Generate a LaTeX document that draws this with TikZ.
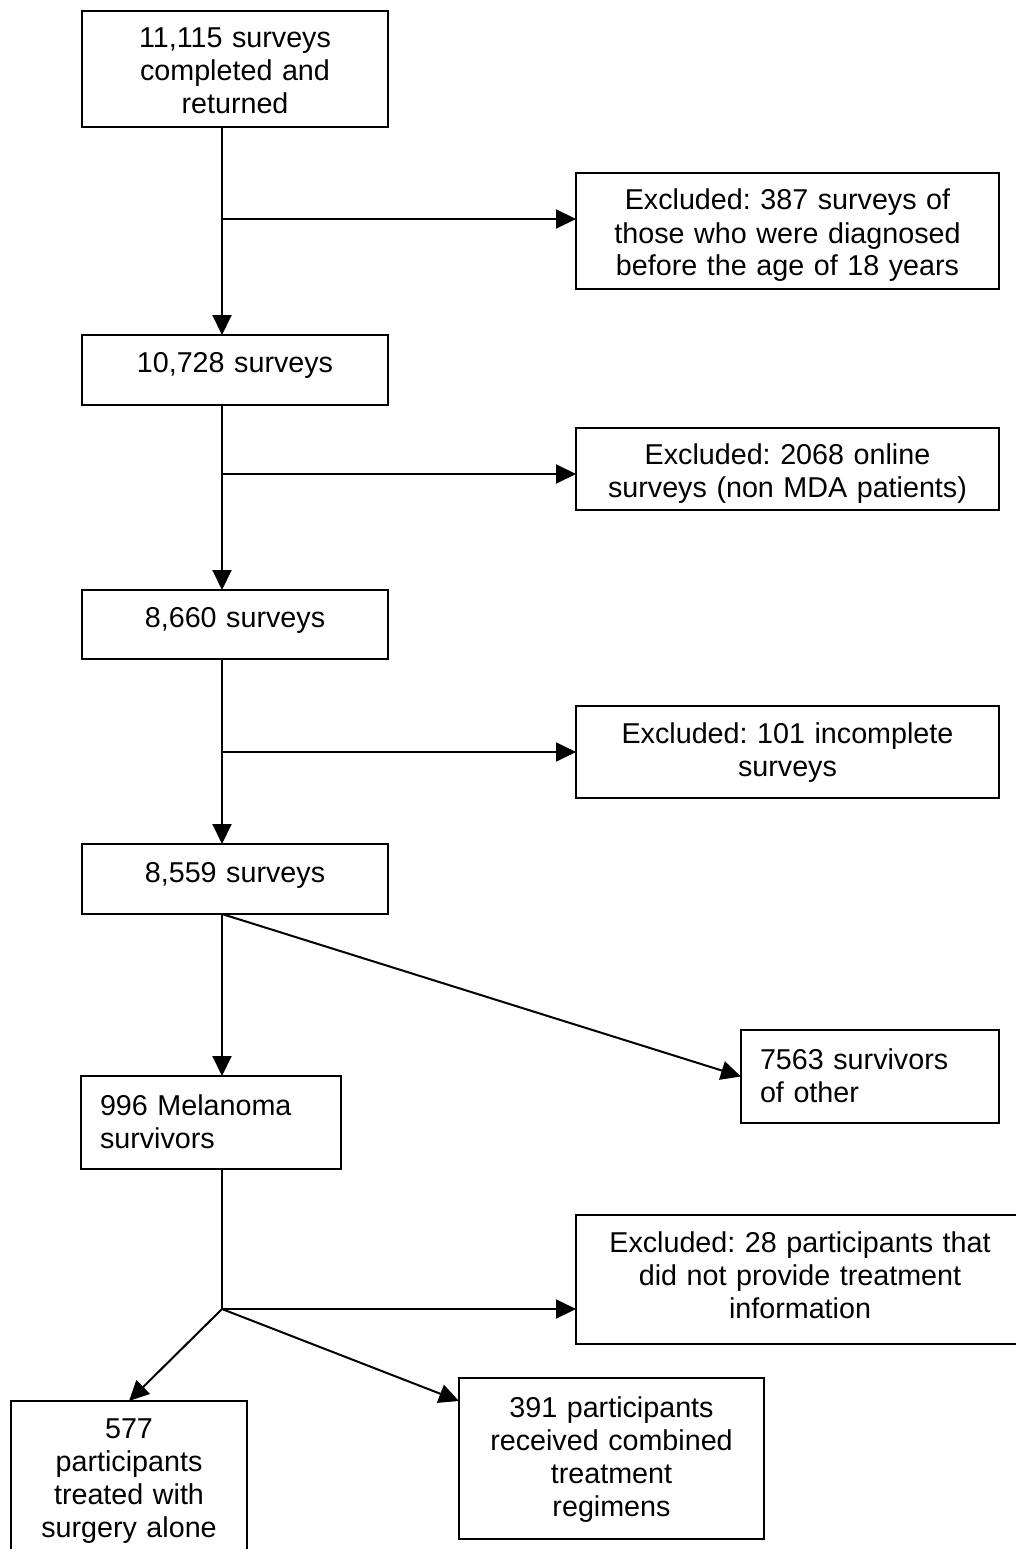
\documentclass[tikz,border=0pt]{standalone}
\usepackage{fontspec}
\setmainfont{Liberation Sans}
\usetikzlibrary{arrows.meta,calc}
\frenchspacing
\begin{document}
\begin{tikzpicture}[x=1pt,y=-1pt,
  box/.style={draw, line width=2pt, inner sep=0pt, outer sep=0pt},
  txt/.style={font=\fontsize{28.7}{33}\selectfont, inner sep=0pt, outer sep=0pt, align=center},
  ltxt/.style={font=\fontsize{28.7}{33}\selectfont, inner sep=0pt, outer sep=0pt, align=left},
  ln/.style={line width=2pt},
  arr/.style={line width=2pt, -{Triangle[length=20pt,width=19pt]}}]
\useasboundingbox (0,0) rectangle (1015,1549);
% boxes
\node[box, minimum width=306pt, minimum height=116pt] (b1) at (235,69) {};
\node[box, minimum width=423pt, minimum height=116pt] (e1) at (787.5,231) {};
\node[box, minimum width=306pt, minimum height=70pt] (b2) at (235,370) {};
\node[box, minimum width=423pt, minimum height=82pt] (e2) at (787.5,469) {};
\node[box, minimum width=306pt, minimum height=69pt] (b3) at (235,624.5) {};
\node[box, minimum width=423pt, minimum height=92pt] (e3) at (787.5,752) {};
\node[box, minimum width=306pt, minimum height=70pt] (b4) at (235,879) {};
\node[box, minimum width=258pt, minimum height=93pt] (o) at (870,1076.5) {};
\node[box, minimum width=260pt, minimum height=93pt] (m) at (211,1122.5) {};
\node[box, minimum width=448pt, minimum height=129pt] (e4) at (800,1279.5) {};
\node[box, minimum width=236pt, minimum height=169pt] (s) at (129,1485.5) {};
\node[box, minimum width=305pt, minimum height=161pt] (c) at (611.5,1458.5) {};
% texts
\node[txt, text width=306pt, anchor=base] (tb1) at ($(b1.north)+(0,37)$) {11,115 surveys\\completed and\\returned};
\node[txt, text width=423pt, anchor=base] (te1) at ($(e1.north)+(0,37)$) {Excluded: 387 surveys of\\those who were diagnosed\\before the age of 18 years};
\node[txt, text width=306pt, anchor=base] (tb2) at ($(b2.north)+(0,37)$) {10,728 surveys};
\node[txt, text width=423pt, anchor=base] (te2) at ($(e2.north)+(0,36)$) {Excluded: 2068 online\\surveys (non MDA patients)};
\node[txt, text width=306pt, anchor=base] (tb3) at ($(b3.north)+(0,37)$) {8,660 surveys};
\node[txt, text width=423pt, anchor=base] (te3) at ($(e3.north)+(0,37)$) {Excluded: 101 incomplete\\surveys};
\node[txt, text width=306pt, anchor=base] (tb4) at ($(b4.north)+(0,38)$) {8,559 surveys};
\node[ltxt, text width=235pt, anchor=base west] (to) at ($(o.north west)+(19,39)$) {7563 survivors\\of other};
\node[ltxt, text width=235pt, anchor=base west] (tm) at ($(m.north west)+(19,39)$) {996 Melanoma\\survivors};
\node[txt, text width=448pt, anchor=base] (te4) at ($(e4.north)+(0,37)$) {Excluded: 28 participants that\\did not provide treatment\\information};
\node[txt, text width=236pt, anchor=base] (ts) at ($(s.north)+(0,37)$) {577\\participants\\treated with\\surgery alone};
\node[txt, text width=305pt, anchor=base] (tc) at ($(c.north)+(0,39)$) {391 participants\\received combined\\treatment\\regimens};
% junctions
\coordinate (j1) at (222,219);
\coordinate (j2) at (222,474);
\coordinate (j3) at (222,752);
\coordinate (j4) at (222,1309);
\coordinate (cin) at ($(c.north west)+(0,23)$);
% connectors
\draw[ln] (b1.south -| j1) -- (j1);
\draw[arr] (j1) -- (b2.north -| j1);
\draw[arr] (j1) -- (e1.west |- j1);
\draw[ln] (b2.south -| j2) -- (j2);
\draw[arr] (j2) -- (b3.north -| j2);
\draw[arr] (j2) -- (e2.west |- j2);
\draw[ln] (b3.south -| j3) -- (j3);
\draw[arr] (j3) -- (b4.north -| j3);
\draw[arr] (j3) -- (e3.west |- j3);
\draw[arr] (b4.south -| j3) -- (m.north -| j3);
\draw[arr] (b4.south -| j3) -- (o.west);
\draw[ln] (m.south -| j4) -- (j4);
\draw[arr] (j4) -- (e4.west |- j4);
\draw[arr] (j4) -- (s.north);
\draw[arr] (j4) -- (cin);
\end{tikzpicture}
\end{document}
